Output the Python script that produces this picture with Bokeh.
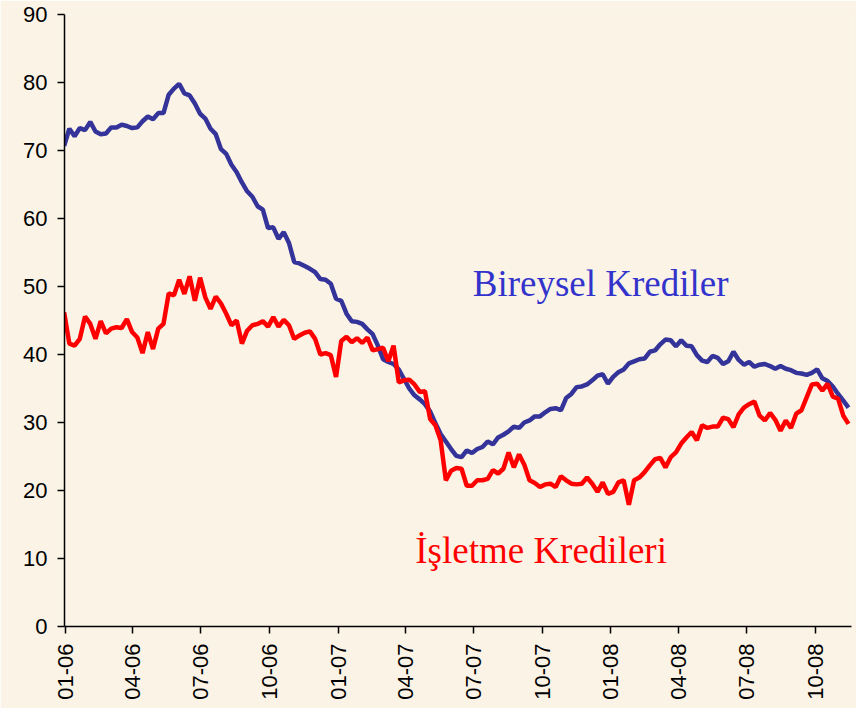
import math
import pandas as pd
from bokeh.plotting import figure
from bokeh.models import FixedTicker, DatetimeTickFormatter, Label, Range1d
from bokeh.embed import file_html
from bokeh.resources import INLINE

# weekly observations starting 2005-12-30
start_date = "2005-12-30"

bireysel = [
    70.7, 73.2, 72.1, 73.3, 73.0, 74.2, 72.8, 72.4, 72.5, 73.4,
    73.4, 73.8, 73.6, 73.3, 73.4, 74.3, 75.0, 74.6, 75.5, 75.5,
    78.2, 79.1, 79.8, 78.4, 78.1, 76.9, 75.4, 74.7, 73.2, 72.4,
    70.2, 69.5, 67.9, 66.8, 65.3, 64.0, 63.2, 61.8, 61.3, 58.6,
    58.7, 57.0, 58.0, 56.4, 53.6, 53.4, 53.0, 52.6, 52.1, 51.1,
    51.0, 50.4, 48.2, 47.9, 46.0, 44.9, 44.8, 44.5, 43.7, 43.0,
    41.3, 39.3, 38.9, 38.6, 37.8, 36.4, 35.0, 34.0, 33.4, 32.7,
    31.6, 29.9, 28.3, 27.2, 26.1, 25.1, 24.9, 25.9, 25.5, 26.1,
    26.4, 27.2, 26.8, 27.8, 28.2, 28.7, 29.4, 29.2, 30.0, 30.3,
    30.9, 30.9, 31.5, 32.0, 32.1, 31.8, 33.6, 34.2, 35.2, 35.3,
    35.6, 36.2, 36.9, 37.1, 35.7, 36.7, 37.4, 37.8, 38.7, 39.0,
    39.3, 39.4, 40.4, 40.6, 41.5, 42.2, 42.1, 41.2, 42.1, 41.3,
    41.2, 39.9, 39.1, 38.9, 39.8, 39.5, 38.6, 39.0, 40.4, 39.2,
    38.5, 38.9, 38.2, 38.5, 38.6, 38.3, 37.9, 38.3, 37.9, 37.7,
    37.3, 37.2, 37.0, 37.3, 37.8, 36.5, 36.1, 35.3, 34.2, 33.2,
    32.2,
]

isletme = [
    46.2, 41.6, 41.3, 42.3, 45.6, 44.5, 42.3, 44.9, 43.1, 43.8,
    44.0, 43.9, 45.2, 43.3, 42.5, 40.2, 43.3, 40.8, 43.8, 44.5,
    49.0, 48.7, 51.0, 48.9, 51.5, 47.9, 51.3, 48.4, 46.7, 48.5,
    47.5, 46.0, 44.3, 45.0, 41.6, 43.5, 44.3, 44.5, 44.9, 44.1,
    45.5, 44.1, 45.1, 44.3, 42.3, 42.8, 43.2, 43.4, 42.3, 40.0,
    40.2, 39.9, 36.7, 42.0, 42.6, 41.8, 42.4, 41.7, 42.5, 40.6,
    40.8, 41.0, 39.0, 41.3, 35.9, 36.2, 36.3, 35.6, 34.5, 34.6,
    30.5, 29.6, 27.4, 21.5, 22.9, 23.3, 23.2, 20.7, 20.7, 21.5,
    21.5, 21.7, 23.0, 22.5, 23.2, 25.6, 23.4, 25.3, 23.8, 21.5,
    21.1, 20.5, 20.9, 21.0, 20.5, 22.1, 21.5, 21.0, 20.9, 21.0,
    21.9, 21.0, 19.8, 21.2, 19.5, 19.8, 21.2, 21.5, 17.9, 21.5,
    21.9, 22.7, 23.7, 24.6, 24.8, 23.4, 24.9, 25.6, 26.9, 27.8,
    28.6, 27.4, 29.6, 29.2, 29.4, 29.4, 30.7, 30.5, 29.3, 31.2,
    32.2, 32.7, 33.1, 31.0, 30.3, 31.4, 30.4, 28.8, 30.3, 29.2,
    31.3, 31.8, 33.7, 35.6, 35.7, 34.7, 35.7, 33.8, 33.5, 31.0,
    29.8,
]

tick_dates = ["2006-01-01", "2006-04-01", "2006-07-01", "2006-10-01",
              "2007-01-01", "2007-04-01", "2007-07-01", "2007-10-01",
              "2008-01-01", "2008-04-01", "2008-07-01", "2008-10-01"]
tick_labels = ["01-06", "04-06", "07-06", "10-06", "01-07", "04-07",
               "07-07", "10-07", "01-08", "04-08", "07-08", "10-08"]
y_ticks = [0, 10, 20, 30, 40, 50, 60, 70, 80, 90]

series_names = ["Bireysel Krediler", "İşletme Kredileri"]

dates = pd.date_range(start=start_date, periods=len(bireysel), freq="7D")


def ms(d):
    return pd.Timestamp(d).value / 1e6


BG = "#FAF3E6"

p = figure(width=856, height=708, x_axis_type="datetime",
           output_backend="svg", toolbar_location=None,
           x_range=Range1d(ms("2005-12-30 12:00"), ms("2008-11-18")),
           y_range=Range1d(0, 90),
           min_border_left=64, min_border_right=5,
           min_border_top=14, min_border_bottom=82)
p.background_fill_color = BG
p.border_fill_color = BG
p.outline_line_color = None
p.xgrid.visible = False
p.ygrid.visible = False

p.line(dates, bireysel, line_color="#333399", line_width=4.5)
p.line(dates, isletme, line_color="#FF0000", line_width=4.5)

tick_ms = [ms(d) for d in tick_dates]
p.xaxis.ticker = FixedTicker(ticks=tick_ms)
p.xaxis.formatter = DatetimeTickFormatter(months="%m-%y", days="%m-%y",
                                          years="%m-%y")
p.xaxis.major_label_overrides = {t: l for t, l in zip(tick_ms, tick_labels)}
p.xaxis.major_label_orientation = math.pi / 2
p.yaxis.ticker = FixedTicker(ticks=y_ticks)

for ax in (p.xaxis, p.yaxis):
    ax.axis_line_color = "black"
    ax.axis_line_width = 1.5
    ax.major_tick_line_color = "black"
    ax.major_tick_line_width = 1.5
    ax.major_tick_out = 7
    ax.major_tick_in = 0
    ax.minor_tick_line_color = None
    ax.major_label_text_font = "Liberation Sans"
    ax.major_label_text_font_size = "22px"
    ax.major_label_text_color = "black"
    ax.major_label_standoff = 10

p.add_layout(Label(x=ms("2007-06-30"), y=50.5, text=series_names[0],
                   text_font="Liberation Serif", text_font_size="37px",
                   text_color="#3333CC", text_baseline="alphabetic"))
p.add_layout(Label(x=ms("2007-04-14"), y=11.2, text=series_names[1],
                   text_font="Liberation Serif", text_font_size="37px",
                   text_color="#FF0000", text_baseline="alphabetic"))

open("out.html", "w").write(file_html(p, INLINE))
